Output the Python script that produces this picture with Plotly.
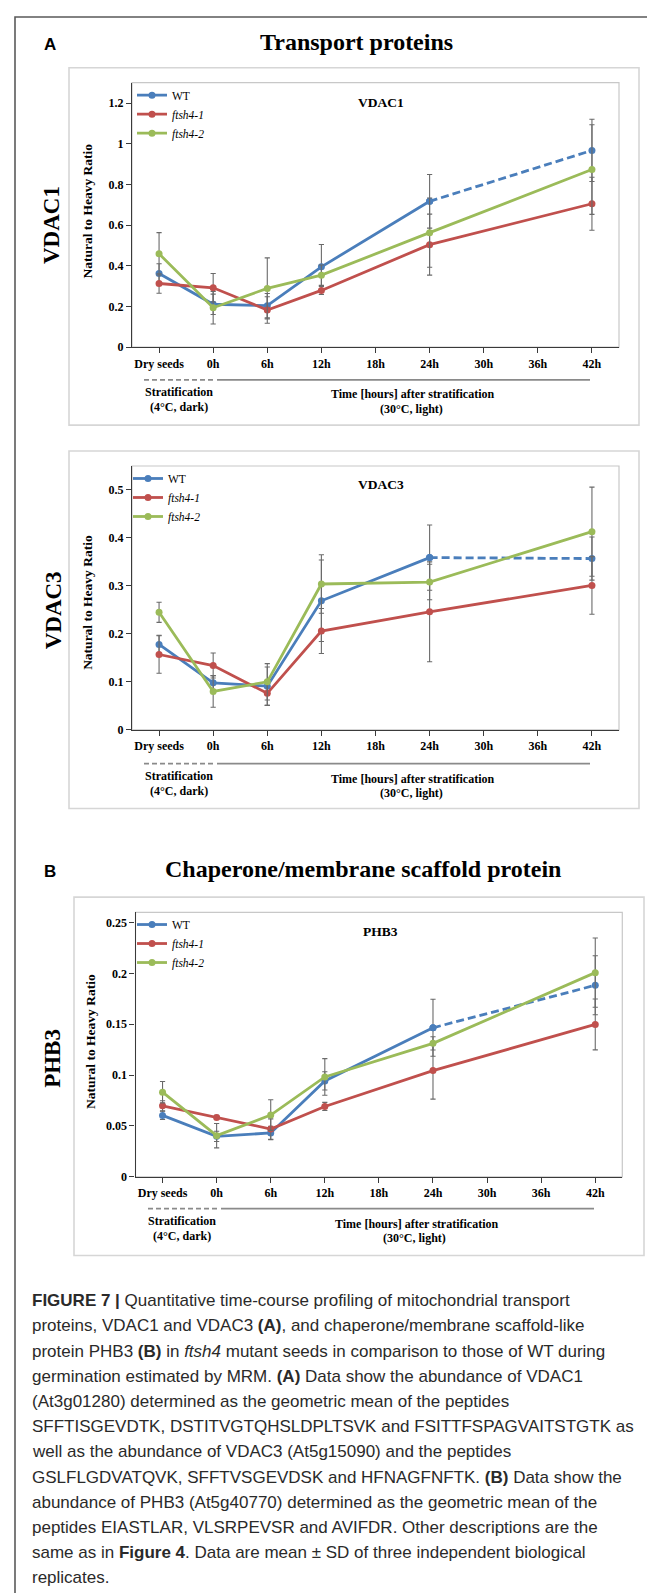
import plotly.graph_objects as go

W, H = 655, 1593

# ---------------- data ----------------
categories = ["Dry seeds", "0h", "6h", "12h", "18h", "24h", "30h", "36h", "42h"]
sampled = ["Dry seeds", "0h", "6h", "12h", "24h", "42h"]
series_names = ["WT", "<i>ftsh4-1</i>", "<i>ftsh4-2</i>"]
colors = ["#4a7ebb", "#c0504d", "#9bbb59"]

vdac1_wt = [0.362, 0.211, 0.204, 0.395, 0.717, 0.967]
vdac1_wt_sd = [0.048, 0.05, 0.06, 0.11, 0.132, 0.153]
vdac1_f1 = [0.313, 0.292, 0.183, 0.279, 0.504, 0.705]
vdac1_f1_sd = [0.048, 0.07, 0.065, 0.02, 0.15, 0.13]
vdac1_f2 = [0.459, 0.194, 0.289, 0.354, 0.563, 0.873]
vdac1_f2_sd = [0.104, 0.08, 0.15, 0.05, 0.17, 0.22]

vdac3_wt = [0.178, 0.098, 0.091, 0.269, 0.359, 0.357]
vdac3_wt_sd = [0.019, 0.015, 0.04, 0.085, 0.068, 0.045]
vdac3_f1 = [0.157, 0.134, 0.076, 0.206, 0.246, 0.301]
vdac3_f1_sd = [0.039, 0.026, 0.025, 0.047, 0.104, 0.06]
vdac3_f2 = [0.245, 0.080, 0.100, 0.304, 0.308, 0.413]
vdac3_f2_sd = [0.021, 0.033, 0.038, 0.061, 0.037, 0.093]

phb3_wt = [0.0604, 0.0398, 0.0431, 0.0943, 0.1465, 0.1883]
phb3_wt_sd = [0.004, 0.005, 0.0065, 0.009, 0.028, 0.029]
phb3_f1 = [0.0698, 0.0584, 0.047, 0.0692, 0.1044, 0.1498]
phb3_f1_sd = [0.005, 0.002, 0.01, 0.004, 0.028, 0.025]
phb3_f2 = [0.0832, 0.0405, 0.0607, 0.0982, 0.1312, 0.2007]
phb3_f2_sd = [0.0105, 0.012, 0.015, 0.018, 0.0065, 0.034]

panels = [
    dict(name="VDAC1", wt=vdac1_wt, wt_sd=vdac1_wt_sd, f1=vdac1_f1, f1_sd=vdac1_f1_sd,
         f2=vdac1_f2, f2_sd=vdac1_f2_sd, yrange=[0, 1.3], dtick=0.2),
    dict(name="VDAC3", wt=vdac3_wt, wt_sd=vdac3_wt_sd, f1=vdac3_f1, f1_sd=vdac3_f1_sd,
         f2=vdac3_f2, f2_sd=vdac3_f2_sd, yrange=[0, 0.55], dtick=0.1),
    dict(name="PHB3", wt=phb3_wt, wt_sd=phb3_wt_sd, f1=phb3_f1, f1_sd=phb3_f1_sd,
         f2=phb3_f2, f2_sd=phb3_f2_sd, yrange=[0, 0.26], dtick=0.05),
]

# ---------------- layout geometry (pixels) ----------------
geo = [
    dict(pl=124, pr=611, pt=75, pb=340.7, box=(61, 60, 631, 419), leg=(124, 73),
         ytitle=(80, 204.5), side=(43, 218), sub=(373, 95),
         strat=dict(dash=(136, 206), solid=(209, 582), ly=373.5,
                    s1=(171, 385.7), s2=(171, 400.5), t1=(405.5, 388), t2=(403, 402.5))),
    dict(pl=124, pr=611, pt=460, pb=725, box=(61, 445, 631, 804), leg=(120, 458),
         ytitle=(80, 597.5), side=(45, 605), sub=(373, 479),
         strat=dict(dash=(136, 206), solid=(209, 582), ly=759,
                    s1=(171, 771.3), s2=(171, 786), t1=(405.5, 774), t2=(403, 788))),
    dict(pl=127.5, pr=614.3, pt=908.3, pb=1174, box=(66, 893, 636, 1253), leg=(124, 906),
         ytitle=(82.5, 1038), side=(44.5, 1055), sub=(372, 927.7),
         strat=dict(dash=(140, 209), solid=(213, 586), ly=1206,
                    s1=(174, 1218), s2=(174, 1233), t1=(409, 1221), t2=(407, 1235))),
]

SERIF = "Liberation Serif"
SANS = "Liberation Sans"


def px(x):
    return x / W


def py(y):
    return 1 - y / H


fig = go.Figure()
shapes = []
annotations = []

# outer frame
shapes.append(dict(type="rect", xref="paper", yref="paper", x0=px(7), x1=px(W + 10),
                   y0=py(H + 10), y1=py(9), line=dict(color="#5a5a5a", width=1.6)))

for i, (p, g) in enumerate(zip(panels, geo)):
    k = "" if i == 0 else str(i + 1)
    xa, ya = "x" + k, "y" + k
    leg = "legend" + k
    # panel box
    bx0, by0, bx1, by1 = g["box"]
    shapes.append(dict(type="rect", xref="paper", yref="paper", x0=px(bx0), x1=px(bx1),
                       y0=py(by1), y1=py(by0), line=dict(color="#d6d6d6", width=1.6)))
    # plot area frame (light)
    shapes.append(dict(type="rect", xref=xa + " domain", yref=ya + " domain", x0=0, x1=1,
                       y0=0, y1=1, line=dict(color="#c8c8c8", width=1.2), layer="below"))

    err = dict(type="data", thickness=1.1, width=2.6, color="#6a6a6a")
    # WT: solid part up to 24h, dashed 24h->42h
    fig.add_trace(go.Scatter(
        x=sampled[:5], y=p["wt"][:5], mode="lines+markers", name=series_names[0],
        line=dict(color=colors[0], width=2.8), marker=dict(size=7, color=colors[0]),
        error_y=dict(array=p["wt_sd"][:5], **err), xaxis=xa, yaxis=ya, legend=leg,
        showlegend=True, legendrank=1))
    fig.add_trace(go.Scatter(
        x=sampled[4:], y=p["wt"][4:], mode="lines+markers", name=series_names[0],
        line=dict(color=colors[0], width=2.8, dash="8px,4px"),
        marker=dict(size=7, color=colors[0]),
        error_y=dict(array=[None] + p["wt_sd"][5:], **err), xaxis=xa, yaxis=ya,
        legend=leg, showlegend=False))
    for j, (key, sdkey) in enumerate([("f1", "f1_sd"), ("f2", "f2_sd")], start=1):
        fig.add_trace(go.Scatter(
            x=sampled, y=p[key], mode="lines+markers", name=series_names[j],
            line=dict(color=colors[j], width=2.8), marker=dict(size=7, color=colors[j]),
            error_y=dict(array=p[sdkey], **err), xaxis=xa, yaxis=ya, legend=leg,
            showlegend=True, legendrank=j + 1))

    axfont = dict(family=SERIF, size=12, color="#000", weight="bold")
    fig.layout["xaxis" + k] = dict(
        domain=[px(g["pl"]), px(g["pr"])], anchor=ya, type="category",
        categoryorder="array", categoryarray=categories, range=[-0.5, len(categories) - 0.5],
        showline=True, linecolor="#3a3a3a", linewidth=1.4, ticks="outside", ticklen=5,
        tickcolor="#3a3a3a", tickwidth=1.2, showgrid=False, zeroline=False,
        tickfont=axfont, fixedrange=True)
    fig.layout["yaxis" + k] = dict(
        domain=[py(g["pb"]), py(g["pt"])], anchor=xa, range=p["yrange"], dtick=p["dtick"],
        tick0=0, showline=True, linecolor="#3a3a3a", linewidth=1.4, ticks="outside",
        ticklen=5, tickcolor="#3a3a3a", tickwidth=1.2, showgrid=False, zeroline=False,
        tickfont=axfont, fixedrange=True)
    fig.layout[leg] = dict(
        x=px(g["leg"][0]), y=py(g["leg"][1]), xanchor="left", yanchor="top",
        bgcolor="rgba(0,0,0,0)", borderwidth=0, itemwidth=30, tracegroupgap=0,
        font=dict(family=SERIF, size=11.5, color="#000"))

    # y axis title
    annotations.append(dict(text="Natural to Heavy Ratio", x=px(g["ytitle"][0]),
                            y=py(g["ytitle"][1]), textangle=-90,
                            font=dict(family=SERIF, size=13.5, color="#000", weight="bold")))
    # side label
    annotations.append(dict(text=p["name"], x=px(g["side"][0]), y=py(g["side"][1]),
                            textangle=-90,
                            font=dict(family=SERIF, size=23, color="#000", weight="bold")))
    # in-plot subtitle
    annotations.append(dict(text=p["name"], x=px(g["sub"][0]), y=py(g["sub"][1]),
                            font=dict(family=SERIF, size=13.5, color="#000", weight="bold")))
    # stratification annotations
    s = g["strat"]
    shapes.append(dict(type="line", xref="paper", yref="paper", x0=px(s["dash"][0]),
                       x1=px(s["dash"][1]), y0=py(s["ly"]), y1=py(s["ly"]),
                       line=dict(color="#8a8a8a", width=1.8, dash="5px,3px")))
    shapes.append(dict(type="line", xref="paper", yref="paper", x0=px(s["solid"][0]),
                       x1=px(s["solid"][1]), y0=py(s["ly"]), y1=py(s["ly"]),
                       line=dict(color="#8a8a8a", width=1.8)))
    bf = dict(family=SERIF, size=12, color="#000", weight="bold")
    annotations.append(dict(text="Stratification", x=px(s["s1"][0]), y=py(s["s1"][1]), font=bf))
    annotations.append(dict(text="(4°C, dark)", x=px(s["s2"][0]), y=py(s["s2"][1]), font=bf))
    annotations.append(dict(text="Time [hours] after stratification", x=px(s["t1"][0]),
                            y=py(s["t1"][1]), font=bf))
    annotations.append(dict(text="(30°C, light)", x=px(s["t2"][0]), y=py(s["t2"][1]), font=bf))

# section headings
annotations.append(dict(text="A", x=px(42), y=py(37),
                        font=dict(family=SANS, size=17, color="#000", weight="bold")))
annotations.append(dict(text="Transport proteins", x=px(348), y=py(34),
                        font=dict(family=SERIF, size=24, color="#000", weight="bold")))
annotations.append(dict(text="B", x=px(42), y=py(867),
                        font=dict(family=SANS, size=17, color="#000", weight="bold")))
annotations.append(dict(text="Chaperone/membrane scaffold protein", x=px(354.5), y=py(865),
                        font=dict(family=SERIF, size=24, color="#000", weight="bold")))

# caption
caption_lines = [
    "<b>FIGURE 7 |</b> Quantitative time-course profiling of mitochondrial transport",
    "proteins, VDAC1 and VDAC3 <b>(A)</b>, and chaperone/membrane scaffold-like",
    "protein PHB3 <b>(B)</b> in <i>ftsh4</i> mutant seeds in comparison to those of WT during",
    "germination estimated by MRM. <b>(A)</b> Data show the abundance of VDAC1",
    "(At3g01280) determined as the geometric mean of the peptides",
    "SFFTISGEVDTK, DSTITVGTQHSLDPLTSVK and FSITTFSPAGVAITSTGTK as",
    "well as the abundance of VDAC3 (At5g15090) and the peptides",
    "GSLFLGDVATQVK, SFFTVSGEVDSK and HFNAGFNFTK. <b>(B)</b> Data show the",
    "abundance of PHB3 (At5g40770) determined as the geometric mean of the",
    "peptides EIASTLAR, VLSRPEVSR and AVIFDR. Other descriptions are the",
    "same as in <b>Figure 4</b>. Data are mean ± SD of three independent biological",
    "replicates.",
]
for n, line in enumerate(caption_lines):
    annotations.append(dict(text=line, x=px(22), y=py(1298.5 + n * 25.3), xanchor="left",
                            font=dict(family=SANS, size=17, color="#2a2a2a")))

for a in annotations:
    a.setdefault("xref", "paper")
    a.setdefault("yref", "paper")
    a.setdefault("showarrow", False)
    a.setdefault("xanchor", "center")
    a.setdefault("yanchor", "middle")

fig.update_layout(
    width=W, height=H, margin=dict(l=0, r=0, t=0, b=0),
    paper_bgcolor="white", plot_bgcolor="white",
    shapes=shapes, annotations=annotations,
    font=dict(family=SERIF, color="#000"),
)

fig.write_html("out.html", config=dict(displayModeBar=False))
